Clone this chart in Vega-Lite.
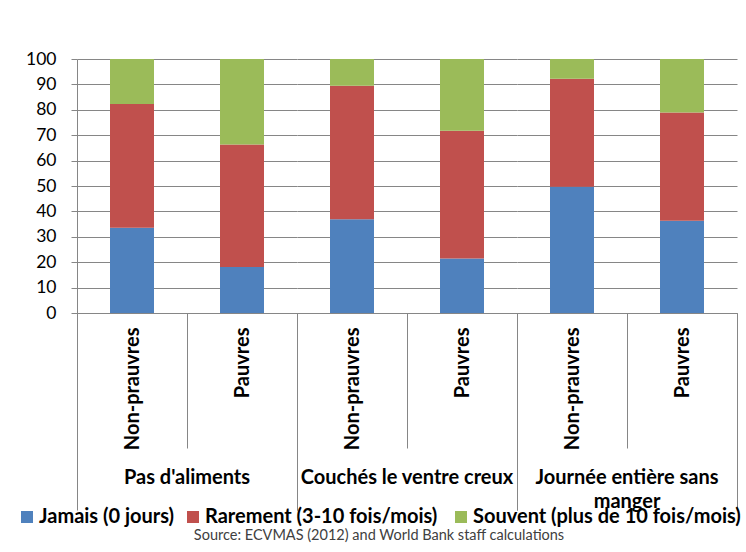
{
  "$schema": "https://vega.github.io/schema/vega-lite/v6.json",
  "padding": {"top": 50, "left": 17, "right": 5, "bottom": 5},
  "background": "white",
  "data": {"values": [
    {"group": "Pas d'aliments", "sub": "Non-prauvres", "cat": "Jamais (0 jours)", "ord": 1, "value": 33.6},
    {"group": "Pas d'aliments", "sub": "Non-prauvres", "cat": "Rarement  (3-10 fois/mois)", "ord": 2, "value": 48.7},
    {"group": "Pas d'aliments", "sub": "Non-prauvres", "cat": "Souvent (plus de 10 fois/mois)", "ord": 3, "value": 17.7},
    {"group": "Pas d'aliments", "sub": "Pauvres", "cat": "Jamais (0 jours)", "ord": 1, "value": 18.1},
    {"group": "Pas d'aliments", "sub": "Pauvres", "cat": "Rarement  (3-10 fois/mois)", "ord": 2, "value": 48.2},
    {"group": "Pas d'aliments", "sub": "Pauvres", "cat": "Souvent (plus de 10 fois/mois)", "ord": 3, "value": 33.7},
    {"group": "Couchés le ventre creux", "sub": "Non-prauvres", "cat": "Jamais (0 jours)", "ord": 1, "value": 36.9},
    {"group": "Couchés le ventre creux", "sub": "Non-prauvres", "cat": "Rarement  (3-10 fois/mois)", "ord": 2, "value": 52.6},
    {"group": "Couchés le ventre creux", "sub": "Non-prauvres", "cat": "Souvent (plus de 10 fois/mois)", "ord": 3, "value": 10.5},
    {"group": "Couchés le ventre creux", "sub": "Pauvres", "cat": "Jamais (0 jours)", "ord": 1, "value": 21.5},
    {"group": "Couchés le ventre creux", "sub": "Pauvres", "cat": "Rarement  (3-10 fois/mois)", "ord": 2, "value": 50.3},
    {"group": "Couchés le ventre creux", "sub": "Pauvres", "cat": "Souvent (plus de 10 fois/mois)", "ord": 3, "value": 28.2},
    {"group": "Journée entière sans manger", "sub": "Non-prauvres", "cat": "Jamais (0 jours)", "ord": 1, "value": 49.7},
    {"group": "Journée entière sans manger", "sub": "Non-prauvres", "cat": "Rarement  (3-10 fois/mois)", "ord": 2, "value": 42.5},
    {"group": "Journée entière sans manger", "sub": "Non-prauvres", "cat": "Souvent (plus de 10 fois/mois)", "ord": 3, "value": 7.8},
    {"group": "Journée entière sans manger", "sub": "Pauvres", "cat": "Jamais (0 jours)", "ord": 1, "value": 36.3},
    {"group": "Journée entière sans manger", "sub": "Pauvres", "cat": "Rarement  (3-10 fois/mois)", "ord": 2, "value": 42.6},
    {"group": "Journée entière sans manger", "sub": "Pauvres", "cat": "Souvent (plus de 10 fois/mois)", "ord": 3, "value": 21.1}
  ]},
  "title": {
    "text": "Source: ECVMAS (2012) and World Bank staff calculations",
    "orient": "bottom",
    "anchor": "middle",
    "fontSize": 14.5,
    "fontWeight": "normal",
    "font": "Lato",
    "color": "#404040",
    "offset": 2
  },
  "facet": {
    "column": {
      "field": "group",
      "type": "nominal",
      "sort": ["Pas d'aliments", "Couchés le ventre creux", "Journée entière sans manger"],
      "header": {
        "title": null,
        "labelOrient": "bottom",
        "labelFont": "Lato",
        "labelFontSize": 20,
        "labelFontWeight": "bold",
        "labelColor": "black",
        "labelPadding": 155,
        "labelLineHeight": 24,
        "labelExpr": "datum.value == 'Journée entière sans manger' ? ['Journée entière sans', 'manger'] : datum.value"
      }
    }
  },
  "spacing": 0,
  "bounds": "flush",
  "resolve": {"scale": {"x": "independent"}},
  "spec": {
    "width": 220,
    "height": 254,
    "layer": [
      {
        "mark": {"type": "bar", "width": {"band": 0.4}},
        "encoding": {
          "x": {
            "field": "sub",
            "type": "nominal",
            "sort": ["Non-prauvres", "Pauvres"],
            "title": null,
            "scale": {"paddingInner": 0, "paddingOuter": 0},
            "axis": {
              "orient": "bottom",
              "domainColor": "#868686",
              "tickColor": "#868686",
              "tickBand": "extent",
              "tickSize": 135,
              "labelAngle": 270,
              "labelPadding": -121,
              "labelFont": "Lato",
              "labelFontSize": 20,
              "labelFontWeight": "bold",
              "labelColor": "black"
            }
          },
          "y": {
            "field": "value",
            "type": "quantitative",
            "stack": "zero",
            "title": null,
            "scale": {"domain": [0, 100]},
            "axis": {
              "values": [0, 10, 20, 30, 40, 50, 60, 70, 80, 90, 100],
              "domainColor": "#868686",
              "tickColor": "#868686",
              "gridColor": "#868686",
              "tickSize": 6,
              "labelPadding": 15,
              "labelFont": "Lato",
              "labelFontSize": 17.5,
              "labelColor": "black"
            }
          },
          "color": {
            "field": "cat",
            "type": "nominal",
            "scale": {
              "domain": ["Jamais (0 jours)", "Rarement  (3-10 fois/mois)", "Souvent (plus de 10 fois/mois)"],
              "range": ["#4F81BD", "#C0504D", "#9BBB59"]
            },
            "legend": {
              "orient": "none",
              "legendX": -60,
              "legendY": 448,
              "direction": "horizontal",
              "title": null,
              "symbolType": "square",
              "symbolSize": 144,
              "symbolStrokeWidth": 0,
              "labelFont": "Lato",
              "labelFontSize": 20,
              "labelFontWeight": "bold",
              "labelColor": "black",
              "labelOffset": 2,
              "columnPadding": 8,
              "labelLimit": 400
            }
          },
          "order": {"field": "ord"}
        }
      },
      {
        "mark": {"type": "bar", "opacity": 0},
        "encoding": {
          "x": {
            "field": "group",
            "type": "nominal",
            "title": null,
            "scale": {"paddingInner": 0, "paddingOuter": 0},
            "axis": {
              "orient": "bottom",
              "domain": false,
              "labels": false,
              "tickColor": "#868686",
              "tickBand": "extent",
              "tickSize": 197
            }
          }
        }
      }
    ],
    "resolve": {"scale": {"x": "independent"}}
  },
  "config": {"view": {"stroke": null}}
}
